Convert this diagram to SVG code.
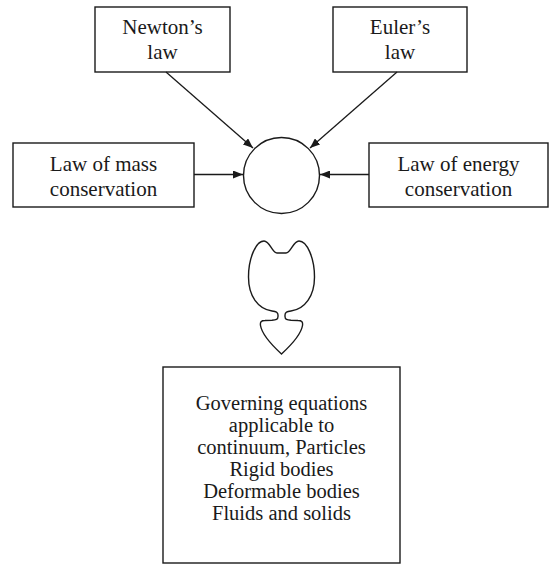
<svg xmlns="http://www.w3.org/2000/svg" width="551" height="565" viewBox="0 0 551 565">
<defs>
<marker id="ah" viewBox="0 0 10 8" refX="10" refY="4" markerWidth="10" markerHeight="8" markerUnits="userSpaceOnUse" orient="auto">
<path d="M0,0 L10,4 L0,8 Z" fill="#1a1a1a"/>
</marker>
</defs>
<style>
.box{fill:#fff;stroke:#1a1a1a;stroke-width:1.4}
.t{font-family:'Liberation Serif','Times New Roman',serif;font-size:21px;fill:#1a1a1a;text-anchor:middle}
.b{font-size:20.5px}
.ln{fill:none;stroke:#1a1a1a;stroke-width:1.3;marker-end:url(#ah)}
.sh{fill:#fff;stroke:#1a1a1a;stroke-width:1.4}
</style>
<rect width="551" height="565" fill="#fff"/>
<g id="newton">
<rect class="box" x="95" y="7" width="135" height="65"/>
<text class="t" x="162.5" y="34">Newton’s</text>
<text class="t" x="162.5" y="59">law</text>
</g>
<g id="euler">
<rect class="box" x="333" y="7" width="134" height="65"/>
<text class="t" x="400" y="34">Euler’s</text>
<text class="t" x="400" y="59">law</text>
</g>
<g id="mass">
<rect class="box" x="13" y="143" width="181" height="64"/>
<text class="t" x="103.5" y="171">Law of mass</text>
<text class="t" x="103.5" y="196">conservation</text>
</g>
<g id="energy">
<rect class="box" x="369" y="143" width="179" height="64"/>
<text class="t" x="458.5" y="171">Law of energy</text>
<text class="t" x="458.5" y="196">conservation</text>
</g>
<g id="circle">
<circle class="sh" cx="281.5" cy="175.5" r="38"/>
</g>
<g id="shape">
<path class="sh" d="M281.5,253 L277,253 C272,253 270,241 264,241 C256,241 248.5,258 248.5,277 C248.5,296 258,309 272,311 C276,311.5 278,312 278,315 L278,316.5 C278,319.5 276,320 272,320.3 L265,320.5 C261,320.5 260,322 260.5,325.5 C262,335 275,348 281.5,354 C288,348 301,335 302.5,325.5 C303,322 302,320.5 298,320.5 L291,320.3 C287,320 285,319.5 285,316.5 L285,315 C285,312 287,311.5 291,311 C305,309 314.5,296 314.5,277 C314.5,258 307,241 299,241 C293,241 291,253 286,253 Z"/>
</g>
<g id="result">
<rect class="box" x="163" y="367" width="237" height="196"/>
<text class="t b" x="281.5" y="410">Governing equations</text>
<text class="t b" x="281.5" y="432">applicable to</text>
<text class="t b" x="281.5" y="454">continuum, Particles</text>
<text class="t b" x="281.5" y="476">Rigid bodies</text>
<text class="t b" x="281.5" y="498">Deformable bodies</text>
<text class="t b" x="281.5" y="520">Fluids and solids</text>
</g>
<g id="connectors">
<line class="ln" x1="166" y1="72" x2="253" y2="148"/>
<line class="ln" x1="397" y1="72" x2="310" y2="148"/>
<line class="ln" x1="194" y1="174.5" x2="243" y2="174.5"/>
<line class="ln" x1="369" y1="174.5" x2="320" y2="174.5"/>
</g>
</svg>
